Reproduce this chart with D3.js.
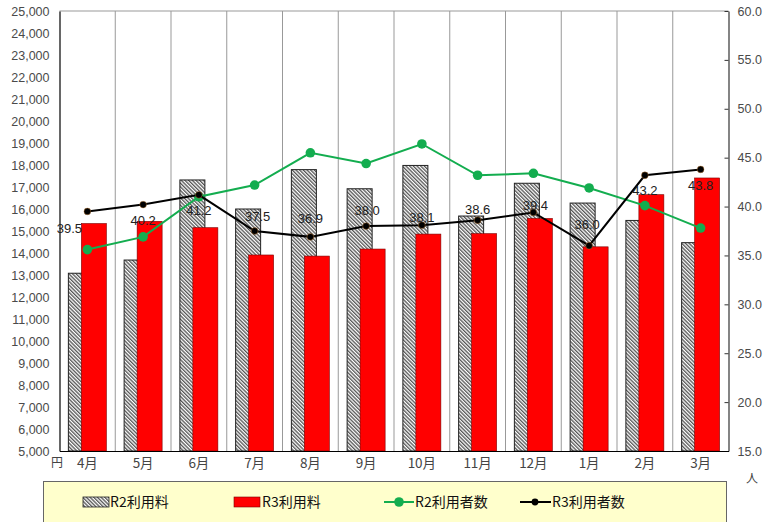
<!DOCTYPE html>
<html>
<head>
<meta charset="utf-8">
<script src="https://cdn.jsdelivr.net/npm/d3@7"></script>
<style>
  body { margin: 0; background: #fff; }
  svg { display: block; }
  text { font-family: "Liberation Sans", Arial, sans-serif; }
  .jp { font-family: "Noto Sans CJK JP", sans-serif; }
</style>
</head>
<body>
<svg id="chart" width="763" height="522"></svg>
<script>
// months on the x axis
var months = ['4月','5月','6月','7月','8月','9月','10月','11月','12月','1月','2月','3月'];
// fees (円)
var r2Fee = [13080, 13680, 17320, 16000, 17790, 16920, 17980, 15680, 17170, 16270, 15480, 14470];
var r3Fee = [15340, 15440, 15150, 13910, 13860, 14180, 14860, 14880, 15570, 14280, 16650, 17410];
// users (人)
var r2Users = [35.6, 36.9, 41.0, 42.2, 45.5, 44.4, 46.4, 43.2, 43.4, 41.9, 40.1, 37.8];
var r3Users = [39.5, 40.2, 41.2, 37.5, 36.9, 38.0, 38.1, 38.6, 39.4, 36.0, 43.2, 43.8];
// tick values
var leftTicks = d3.range(5000, 25001, 1000);
var rightTicks = d3.range(15, 60.1, 5);
// label offsets for the R3 value labels (layout only)
var labelDx = [-18, 0, 0, 3, 0, 1, 0, 0, 2, -2, 0, 0];
var labelDy = [17, 16, 16, -15, -18, -16, -8, -11, -7, -21, 15, 16];

var svg = d3.select('#chart');

// plot area edges
var plotL = 59.5, plotR = 728.5, plotT = 11, plotB = 451;

var x = d3.scaleBand().domain(months).range([plotL, plotR]).padding(0);
var yL = d3.scaleLinear().domain([5000, 25000]).range([plotB, plotT]);
var yR = d3.scaleLinear().domain([15, 60]).range([plotB, plotT]);

// hatch pattern
var defs = svg.append('defs');
var pat = defs.append('pattern')
    .attr('id', 'hatch')
    .attr('patternUnits', 'userSpaceOnUse')
    .attr('width', 2.6).attr('height', 2.6)
    .attr('patternTransform', 'rotate(-45)');
pat.append('rect').attr('width', 2.6).attr('height', 2.6).attr('fill', '#fff');
pat.append('line').attr('x1', 0.7).attr('y1', 0).attr('x2', 0.7).attr('y2', 2.6)
    .attr('stroke', '#333').attr('stroke-width', 1.1);

// top border
svg.append('line').attr('x1', plotL).attr('x2', plotR).attr('y1', plotT).attr('y2', plotT)
    .attr('stroke', '#999').attr('stroke-width', 1);

// vertical grid lines between months
var bounds = months.slice(1).map(function(m) { return x(m); });
svg.append('g').selectAll('line').data(bounds).enter().append('line')
    .attr('x1', function(d) { return d; }).attr('x2', function(d) { return d; })
    .attr('y1', plotT).attr('y2', plotB)
    .attr('stroke', '#999').attr('stroke-width', 1);

var bw = 25, off = 6.5;
var cx = function(i) { return x(months[i]) + x.bandwidth() / 2; };

// R2 bars
svg.append('g').selectAll('rect').data(r2Fee).enter().append('rect')
    .attr('x', function(d, i) { return cx(i) - off - bw / 2; })
    .attr('y', function(d) { return yL(d); })
    .attr('width', bw)
    .attr('height', function(d) { return plotB - yL(d); })
    .attr('fill', 'url(#hatch)')
    .attr('stroke', '#222').attr('stroke-width', 1);

// R3 bars
svg.append('g').selectAll('rect').data(r3Fee).enter().append('rect')
    .attr('x', function(d, i) { return cx(i) + off - bw / 2; })
    .attr('y', function(d) { return yL(d); })
    .attr('width', bw)
    .attr('height', function(d) { return plotB - yL(d); })
    .attr('fill', '#ff0000')
    .attr('stroke', '#7a0000').attr('stroke-width', 0.6);

// left axis
var gL = svg.append('g').attr('transform', 'translate(' + plotL + ',0)')
    .call(d3.axisLeft(yL).tickValues(leftTicks).tickFormat(d3.format(',')).tickSize(0).tickPadding(10));
gL.select('.domain').attr('stroke', '#000').attr('stroke-width', 1.2);
gL.selectAll('text').attr('font-size', 12.5).attr('fill', '#4a4a4a')
    .style('font-family', '"Liberation Sans", Arial, sans-serif');

// right axis
var gR = svg.append('g').attr('transform', 'translate(' + plotR + ',0)')
    .call(d3.axisRight(yR).tickValues(rightTicks).tickFormat(d3.format('.1f')).tickSizeInner(-4).tickSizeOuter(0).tickPadding(9));
gR.select('.domain').attr('stroke', '#333').attr('stroke-width', 1.2);
gR.selectAll('.tick line').attr('stroke', '#333');
gR.selectAll('text').attr('font-size', 12.5).attr('fill', '#4a4a4a')
    .style('font-family', '"Liberation Sans", Arial, sans-serif');

// bottom axis
var gB = svg.append('g').attr('transform', 'translate(0,' + plotB + ')')
    .call(d3.axisBottom(x).tickSize(0).tickPadding(7));
gB.select('.domain').attr('stroke', '#000').attr('stroke-width', 1.2);
gB.selectAll('text').attr('font-size', 13.5).attr('fill', '#444')
    .style('font-family', '"Noto Sans CJK JP", sans-serif');

// unit labels
svg.append('text').attr('class', 'jp').attr('x', 51).attr('y', 467)
    .attr('font-size', 12).attr('fill', '#444').text('円');
svg.append('text').attr('class', 'jp').attr('x', 746).attr('y', 483)
    .attr('font-size', 12).attr('fill', '#444').text('人');

// lines
var line = d3.line()
    .x(function(d, i) { return cx(i); })
    .y(function(d) { return yR(d); });

svg.append('path').datum(r2Users).attr('d', line)
    .attr('fill', 'none').attr('stroke', '#13ad4f').attr('stroke-width', 2);
svg.append('g').selectAll('circle').data(r2Users).enter().append('circle')
    .attr('cx', function(d, i) { return cx(i); })
    .attr('cy', function(d) { return yR(d); })
    .attr('r', 4.8).attr('fill', '#13ad4f');

svg.append('path').datum(r3Users).attr('d', line)
    .attr('fill', 'none').attr('stroke', '#000').attr('stroke-width', 2);
svg.append('g').selectAll('circle').data(r3Users).enter().append('circle')
    .attr('cx', function(d, i) { return cx(i); })
    .attr('cy', function(d) { return yR(d); })
    .attr('r', 3.4).attr('fill', '#000')
    .attr('stroke', '#d88a3a').attr('stroke-width', 0.4);

// value labels for R3 users
svg.append('g').selectAll('text').data(r3Users).enter().append('text')
    .attr('x', function(d, i) { return cx(i) + labelDx[i]; })
    .attr('y', function(d, i) { return yR(d) + labelDy[i]; })
    .attr('dy', '0.35em')
    .attr('text-anchor', 'middle')
    .attr('font-size', 13).attr('fill', '#222')
    .text(function(d) { return d3.format('.1f')(d); });

// legend
var lg = svg.append('g');
lg.append('rect').attr('x', 43.5).attr('y', 481.5).attr('width', 683).attr('height', 50)
    .attr('fill', '#ffffcc').attr('stroke', '#666').attr('stroke-width', 1);

var legendY = 502;
lg.append('rect').attr('x', 83).attr('y', legendY - 5).attr('width', 26).attr('height', 10)
    .attr('fill', 'url(#hatch)').attr('stroke', '#222').attr('stroke-width', 0.8);
lg.append('text').attr('class', 'jp').attr('x', 110).attr('y', legendY).attr('dy', '0.35em')
    .attr('font-size', 14).attr('fill', '#111').text('R2利用料');

lg.append('rect').attr('x', 234).attr('y', legendY - 5).attr('width', 26).attr('height', 10)
    .attr('fill', '#ff0000').attr('stroke', '#7a0000').attr('stroke-width', 0.6);
lg.append('text').attr('class', 'jp').attr('x', 262).attr('y', legendY).attr('dy', '0.35em')
    .attr('font-size', 14).attr('fill', '#111').text('R3利用料');

lg.append('line').attr('x1', 384).attr('x2', 414).attr('y1', legendY).attr('y2', legendY)
    .attr('stroke', '#13ad4f').attr('stroke-width', 2);
lg.append('circle').attr('cx', 399).attr('cy', legendY).attr('r', 4.8).attr('fill', '#13ad4f');
lg.append('text').attr('class', 'jp').attr('x', 415).attr('y', legendY).attr('dy', '0.35em')
    .attr('font-size', 14).attr('fill', '#111').text('R2利用者数');

lg.append('line').attr('x1', 520).attr('x2', 551).attr('y1', legendY).attr('y2', legendY)
    .attr('stroke', '#000').attr('stroke-width', 2);
lg.append('circle').attr('cx', 535).attr('cy', legendY).attr('r', 3.4).attr('fill', '#000');
lg.append('text').attr('class', 'jp').attr('x', 552).attr('y', legendY).attr('dy', '0.35em')
    .attr('font-size', 14).attr('fill', '#111').text('R3利用者数');
</script>
</body>
</html>
